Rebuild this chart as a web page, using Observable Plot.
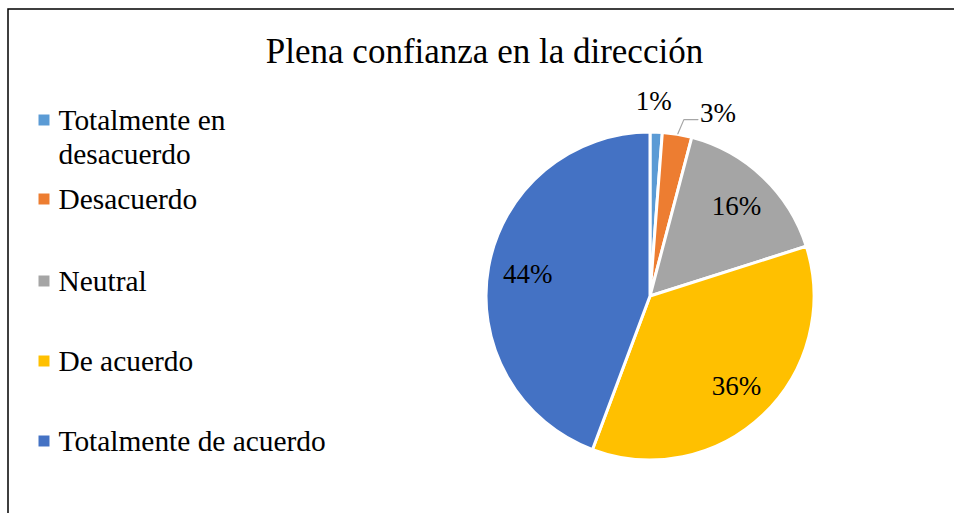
<!DOCTYPE html>
<html><head><meta charset="utf-8">
<script src="https://cdn.jsdelivr.net/npm/d3@7"></script>
<script src="https://cdn.jsdelivr.net/npm/@observablehq/plot@0.6"></script>
<style>html,body{margin:0;padding:0;background:#fff}</style>
</head><body><div id="chart"></div>
<script>
// ---- data ----
const title = "Plena confianza en la dirección";
const categories = ["Totalmente en desacuerdo", "Desacuerdo", "Neutral", "De acuerdo", "Totalmente de acuerdo"];
const legendLabels = ["Totalmente en\ndesacuerdo", "Desacuerdo", "Neutral", "De acuerdo", "Totalmente de acuerdo"];
const values = [1.2, 2.9, 16.0, 35.6, 44.3];
const valueLabels = ["1%", "3%", "16%", "36%", "44%"];
const colors = ["#5B9BD5", "#ED7D31", "#A5A5A5", "#FFC000", "#4472C4"];

// ---- layout ----
const W = 954, H = 513;
const cx = 650, cy = 296, R = 164;
const serif = "Liberation Serif, Times New Roman, serif";
const legendFont = 29.4, legendLH = 34;
const legendLastBaselines = [163, 208, 290, 370, 450];
const outsideNudgeDeg = [-1.2, 10.7];

const rows = categories.map((c, i) => ({category: c, legend: legendLabels[i], value: values[i], label: valueLabels[i]}));
const arcs = d3.pie().sort(null).value(d => d.value)(rows);
const polar = (a, r) => [cx + r * Math.sin(a), cy - r * Math.cos(a)];

// value labels
const labelData = [];
const leaders = [];
let k = 0;
arcs.forEach(a => {
  const mid = (a.startAngle + a.endAngle) / 2;
  if (a.data.value >= 10) {
    const [x, y] = polar(mid, R * 0.76);
    labelData.push({x, y, text: a.data.label});
  } else {
    const nudge = outsideNudgeDeg[k++] * Math.PI / 180;
    const ang = mid + nudge;
    const [x, y] = polar(ang, R + 31);
    labelData.push({x, y, text: a.data.label});
    if (Math.abs(nudge) > 0.1) {
      const p0 = polar(mid, R + 1);
      const p1 = polar(mid + 0.02, R + 16);
      const halfW = a.data.label.length * 9;
      leaders.push({x: p0[0], y: p0[1]}, {x: p1[0], y: p1[1]}, {x: x - halfW - 2, y: p1[1]});
    }
  }
});

// legend
const legendData = rows.map((d, i) => {
  const n = d.legend.split("\n").length;
  const last = legendLastBaselines[i];
  return {...d, y: last, sy: last - (n - 1) * legendLH - 9.5};
});

const arcGen = d3.arc().innerRadius(0).outerRadius(R);

const pieMark = (index, scales) => {
  const g = d3.create("svg:g");
  g.selectAll("path")
    .data(arcs)
    .join("path")
    .attr("transform", `translate(${scales.x(cx)},${scales.y(cy)})`)
    .attr("d", arcGen)
    .attr("fill", d => scales.color ? scales.color(d.data.category) : colors[categories.indexOf(d.data.category)])
    .attr("stroke", "#fff")
    .attr("stroke-width", 3)
    .attr("stroke-linejoin", "round");
  return g.node();
};

const chart = Plot.plot({
  width: W,
  height: H,
  margin: 0,
  x: {domain: [0, W], range: [0, W], axis: null},
  y: {domain: [0, H], range: [0, H], axis: null},
  color: {domain: categories, range: colors},
  style: {fontFamily: serif, background: "#fff", overflow: "visible"},
  marks: [
    Plot.frame({stroke: "#000", strokeWidth: 1.5, insetLeft: 7.5, insetTop: 8.5, insetRight: -10, insetBottom: -10}),
    Plot.text([title], {x: () => 484, y: () => 62, text: d => d, fontSize: 35, fontFamily: serif, fill: "#000", textAnchor: "middle", lineAnchor: "bottom"}),
    pieMark,
    Plot.line(leaders, {x: "x", y: "y", stroke: "#A6A6A6", strokeWidth: 1.2}),
    Plot.text(labelData, {x: "x", y: "y", text: "text", fontSize: 27, fontFamily: serif, fill: "#000", textAnchor: "middle", lineAnchor: "middle"}),
    Plot.dot(legendData, {x: () => 43.5, y: "sy", symbol: "square", r: 6.2, fill: "category", stroke: null}),
    Plot.text(legendData, {x: () => 58, y: "y", text: "legend", fontSize: legendFont, lineHeight: legendLH / legendFont, fontFamily: serif, fill: "#000", textAnchor: "start", lineAnchor: "bottom"})
  ]
});
document.getElementById("chart").appendChild(chart);
</script>
</body></html>
